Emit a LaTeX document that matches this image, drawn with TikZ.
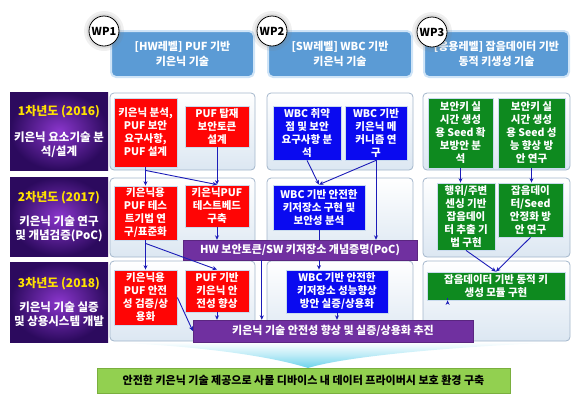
\documentclass[tikz,border=0pt]{standalone}
\usepackage{fontspec}
\setmainfont{Noto Sans CJK KR}
\usetikzlibrary{arrows.meta,calc}
\definecolor{redc}{HTML}{FF0505}
\definecolor{bluec}{HTML}{0A0AF0}
\definecolor{greenc}{HTML}{0E8A1F}
\definecolor{purp}{HTML}{7030A0}
\definecolor{hdrc}{HTML}{5B9BD5}
\definecolor{hdrglow}{HTML}{CFE4F7}
\definecolor{pnlborder}{HTML}{A3B6CB}
\definecolor{pnlbot}{HTML}{DCE7F2}
\definecolor{bgreen}{HTML}{92D050}
\definecolor{bgreenb}{HTML}{7AAF3E}
\definecolor{arrc}{HTML}{1C1CB8}
\definecolor{ylw}{HTML}{FFE200}
\definecolor{labin}{HTML}{8A36CC}
\definecolor{labout}{HTML}{2C0A5E}
\definecolor{glowc}{HTML}{C9DBEE}
\definecolor{cyanc}{HTML}{6CD3EC}
\begin{document}
\begin{tikzpicture}[x=1pt,y=-1pt,
  txt/.style={align=center,font=\bfseries\fontsize{10.5}{13}\selectfont,inner sep=1pt},
  cbox/.style={txt,text=white,draw=glowc,line width=0.8pt},
  redb/.style={cbox,fill=redc},
  blueb/.style={cbox,fill=bluec},
  greenb/.style={cbox,fill=greenc},
  pbar/.style={txt,text=white,fill=purp,draw=purp!80!black,line width=0.4pt,font=\bfseries\fontsize{11}{12}\selectfont},
  panel/.style={draw=pnlborder,line width=0.8pt,rounded corners=4pt,top color=white,bottom color=pnlbot},
  hdr/.style={txt,text=white,fill=hdrc,draw=hdrglow,line width=2pt,rounded corners=5pt,font=\bfseries\fontsize{11}{14.5}\selectfont},
  rowlab/.style={txt,text=white,inner color=labin,outer color=labout,font=\bfseries\fontsize{11.5}{14}\selectfont},
  wp/.style={circle,draw=black,line width=0.8pt,fill=white,minimum size=30pt,inner sep=0pt,font=\bfseries\fontsize{11}{12}\selectfont},
  arr/.style={draw=arrc,line width=0.9pt,-{Stealth[length=4.5pt,width=4pt]}},
  ln/.style={draw=arrc,line width=0.9pt}
]
\useasboundingbox (0,0) rectangle (584,400);

% funnel
\shade[top color=white, bottom color=cyanc, middle color=cyanc!45]
  (105,342) .. controls (200,346) and (270,356) .. (308,368)
  .. controls (346,356) and (460,346) .. (568,342) -- cycle;

% headers
\node[hdr,minimum width=143pt,minimum height=46pt] (H1) at (182.5,54) {[HW레벨] PUF 기반\\키은닉 기술};
\node[hdr,minimum width=144pt,minimum height=46pt] (H2) at (340,54) {[SW레벨] WBC 기반\\키은닉 기술};
\node[hdr,minimum width=145pt,minimum height=46pt] (H3) at (496.5,54) {[응용레벨] 잡음데이터 기반\\동적 키생성 기술};

% WP circles with glow
\foreach \cx/\cy in {104/31,272/31,432/32}{
  \fill[gray,opacity=0.12] (\cx,\cy) circle (20pt);
  \fill[gray,opacity=0.15] (\cx,\cy) circle (17.5pt);
}
\node[wp] (W1) at (104,31) {WP1};
\node[wp] (W2) at (272,31) {WP2};
\node[wp] (W3) at (432,32) {WP3};

% row labels
\node[rowlab,minimum width=98pt,minimum height=78pt] (L1) at (59,131)
  {{\color{ylw}\fontsize{12}{14}\selectfont 1차년도 (2016)}\\[12pt]키은닉 요소기술 분\\석/설계};
\node[rowlab,minimum width=98pt,minimum height=79pt] (L2) at (59,216.5)
  {{\color{ylw}\fontsize{12}{14}\selectfont 2차년도 (2017)}\\[10pt]키은닉 기술 연구\\및 개념검증(PoC)};
\node[rowlab,minimum width=98pt,minimum height=80pt] (L3) at (59,302)
  {{\color{ylw}\fontsize{12}{14}\selectfont 3차년도 (2018)}\\[10pt]키은닉 기술 실증\\및 상용시스템 개발};

% panels
\foreach \r/\cy/\h in {1/131.5/77,2/217.5/79,3/301/80}{
  \node[panel,minimum width=145pt,minimum height=\h pt] (P\r a) at (182.5,\cy) {};
  \node[panel,minimum width=146pt,minimum height=\h pt] (P\r b) at (340,\cy) {};
  \node[panel,minimum width=147pt,minimum height=\h pt] (P\r c) at (496.5,\cy) {};
}

% row 1
\node[redb,minimum width=63pt,minimum height=69pt] (R11) at (145.5,132.5) {키은닉 분석,\\PUF 보안\\요구사항,\\PUF 설계};
\node[redb,minimum width=64pt,minimum height=41pt] (R12) at (217,126.5) {PUF 탑재\\보안토큰\\설계};
\node[blueb,minimum width=68pt,minimum height=54pt] (B11) at (307,133) {WBC 취약\\점 및 보안\\요구사항 분\\석};
\node[blueb,minimum width=62pt,minimum height=54pt] (B12) at (376,133) {WBC 기반\\키은닉 메\\커니즘 연\\구};
\node[greenb,minimum width=65pt,minimum height=70pt] (G11) at (460.5,133) {보안키 실\\시간 생성\\용 Seed 확\\보방안 분\\석};
\node[greenb,minimum width=67pt,minimum height=70pt] (G12) at (531.5,133) {보안키 실\\시간 생성\\용 Seed 성\\능 향상 방\\안 연구};

% row 2
\node[redb,minimum width=63pt,minimum height=54pt] (R21) at (145.5,213) {키은닉용\\PUF 테스\\트기법 연\\구/표준화};
\node[redb,minimum width=64pt,minimum height=42pt] (R22) at (217,206) {키은닉PUF\\테스트베드\\구축};
\node[blueb,minimum width=92pt,minimum height=45pt] (B21) at (319,207.5) {WBC 기반 안전한\\키저장소 구현 및\\보안성 분석};
\node[greenb,minimum width=58pt,minimum height=67pt] (G21) at (466,216.5) {행위/주변\\센싱 기반\\잡음데이\\터 추출 기\\법 구현};
\node[greenb,minimum width=65pt,minimum height=54pt] (G22) at (530.5,210) {잡음데이\\터/Seed\\안정화 방\\안 연구};
\node[pbar,minimum width=234pt,minimum height=20pt] (PB2) at (300,250) {HW 보안토큰/SW 키저장소 개념증명(PoC)};

% row 3
\node[redb,minimum width=63pt,minimum height=55pt] (R31) at (145.5,297.5) {키은닉용\\PUF 안전\\성 검증/상\\용화};
\node[redb,minimum width=64pt,minimum height=42pt] (R32) at (217,291) {PUF 기반\\키은닉 안\\전성 향상};
\node[blueb,minimum width=102pt,minimum height=43pt] (B31) at (337,291.5) {WBC 기반 안전한\\키저장소 성능향상\\방안 실증/상용화};
\node[greenb,minimum width=138pt,minimum height=28pt] (G31) at (496,286) {잡음데이터 기반 동적 키\\생성 모듈 구현};
\node[pbar,minimum width=280pt,minimum height=22pt] (PB3) at (333,331) {키은닉 기술 안전성 향상 및 실증/상용화 추진};

% bottom
\node[txt,fill=bgreen,draw=bgreenb,line width=0.6pt,minimum width=413pt,minimum height=25pt,font=\bfseries\fontsize{11}{12}\selectfont] (BG) at (303.5,380.5)
  {안전한 키은닉 기술 제공으로 사물 디바이스 내 데이터 프라이버시 보호 환경 구축};

% connectors col 1
\draw[arr] (R11.south) -- (R21.north);
\draw[arr] (R11.south) -- ++(0,3) -- (R22.north);
\draw[arr] (R12.south) -- (R22.north);
\draw[arr] (R21.south) -- (R31.north);
\draw[arr] (R21.south) -- ++(0,3) -- (R32.north);
\draw[arr] (R22.south) -- (R22.south |- PB2.north);
\draw[arr] (R31.east) -- (PB3.west);
\draw[arr] (R32.south) -- (R32.south |- PB3.north);
% col 2
\draw[arr] (B11.south) -- (B21.north);
\draw[arr] (B12.south) -- (B21.north);
\draw[arr] (B12.south) -- (B12.south |- PB2.north);
\draw[ln] (B21.south) -- (B21.south |- PB2.north);
\draw[arr] (B21.south |- PB2.south) -- (B21.south |- B31.north);
\draw[arr] (B31.south) -- (B31.south |- PB3.north);
\draw[arr] ($(PB2.south west)+(79,0)$) -- ($(PB3.north west)+(69,0)$);
% col 3
\draw[arr] (G11.south) -- (G11.south |- G21.north);
\draw[arr] (G12.south) -- (G12.south |- G22.north);
\draw[arr] (G21.south) -- (G31.north);
\draw[arr] (G22.south) -- (G31.north);
\draw[arr] ($(G31.south west)+(21,0)$) -- ($(G31.south west)+(21,0)$ |- PB3.north);
\end{tikzpicture}
\end{document}
